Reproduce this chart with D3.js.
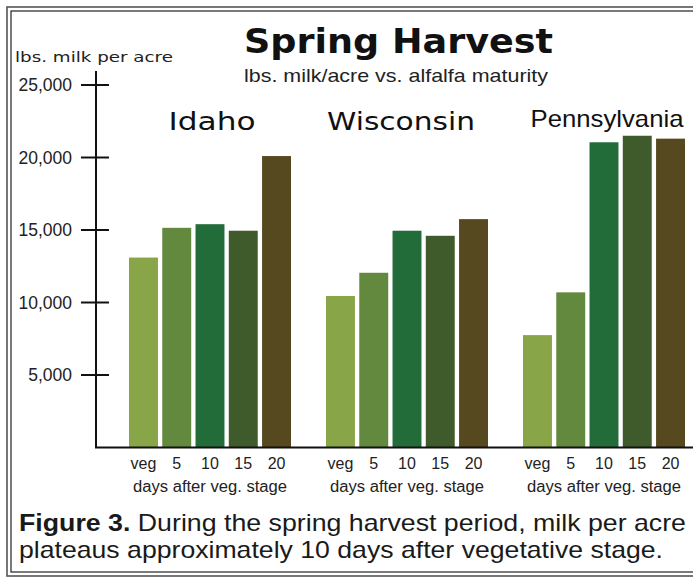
<!DOCTYPE html>
<html>
<head>
<meta charset="utf-8">
<script src="https://cdn.jsdelivr.net/npm/d3@7"></script>
<style>
  body { margin: 0; background: #fff; }
</style>
</head>
<body>
<div id="chart"></div>
<script>
// data
const regions = ["Idaho", "Wisconsin", "Pennsylvania"]
const stages = ["veg", "5", "10", "15", "20"]
const idaho = [13100, 15150, 15400, 14950, 20100]
const wisconsin = [10450, 12050, 14950, 14600, 15750]
const pennsylvania = [7750, 10700, 21050, 21500, 21300]
const yTicks = [5000, 10000, 15000, 20000, 25000]
const stageColors = ["#88a548", "#62893d", "#216c39", "#3f5a2b", "#57491f"]

const values = { "Idaho": idaho, "Wisconsin": wisconsin, "Pennsylvania": pennsylvania }

const W = 693, H = 578

const svg = d3.select("#chart")
    .append("svg")
    .attr("width", W)
    .attr("height", H)
    .style("font-family", "'Liberation Sans', Arial, sans-serif")

// double frame round the figure
svg.append("rect").attr("x", 7).attr("y", 7).attr("width", 720).attr("height", 569)
    .attr("fill", "none").attr("stroke", "#555").attr("stroke-width", 1.6)
svg.append("rect").attr("x", 11).attr("y", 11).attr("width", 720).attr("height", 561)
    .attr("fill", "none").attr("stroke", "#222").attr("stroke-width", 1.2)

// scales
const y = d3.scaleLinear().domain([0, 25000]).range([447.5, 85])
const x0 = d3.scaleBand().domain(regions).range([129, 129 + 3 * 197])
const x1 = d3.scaleBand().domain(stages).range([0, 162]).paddingInner(0.13)

// titles
svg.append("text")
    .text("Spring Harvest")
    .attr("x", 244).attr("y", 53)
    .attr("textLength", 309).attr("lengthAdjust", "spacingAndGlyphs")
    .style("font-family", "'DejaVu Sans', Verdana, sans-serif")
    .style("font-weight", "bold")
    .style("font-size", "33px")
    .attr("fill", "#111")

svg.append("text")
    .text("lbs. milk/acre vs. alfalfa maturity")
    .attr("x", 244).attr("y", 82)
    .attr("textLength", 304).attr("lengthAdjust", "spacingAndGlyphs")
    .style("font-size", "19px")
    .attr("fill", "#222")

svg.append("text")
    .text("lbs. milk per acre")
    .attr("x", 15).attr("y", 62)
    .attr("textLength", 158).attr("lengthAdjust", "spacingAndGlyphs")
    .style("font-family", "'DejaVu Sans', Verdana, sans-serif")
    .style("font-size", "14px")
    .attr("fill", "#222")

// y axis: a plain line with ticks that cross it
svg.append("line")
    .attr("x1", 96).attr("x2", 96)
    .attr("y1", 71).attr("y2", y(0))
    .attr("stroke", "#111").attr("stroke-width", 2)

const ticks = svg.selectAll(".ytick").data(yTicks).join("g")
    .attr("class", "ytick")
    .attr("transform", d => `translate(0, ${y(d)})`)
ticks.append("line")
    .attr("x1", 81).attr("x2", 109)
    .attr("stroke", "#111").attr("stroke-width", 2)
ticks.append("text")
    .text(d => d3.format(",")(d))
    .attr("x", 72).attr("y", 6)
    .attr("text-anchor", "end")
    .style("font-size", "17.5px")
    .attr("fill", "#222")

// bars, one group per state
const groups = svg.selectAll(".region").data(regions).join("g")
    .attr("class", "region")
    .attr("transform", d => `translate(${x0(d)}, 0)`)

groups.selectAll("rect")
    .data(r => values[r].map((v, i) => ({ stage: stages[i], value: v, i: i })))
    .join("rect")
    .attr("x", d => x1(d.stage))
    .attr("width", x1.bandwidth())
    .attr("y", d => y(d.value))
    .attr("height", d => y(0) - y(d.value))
    .attr("fill", d => stageColors[d.i])

// baseline drawn after the bars
svg.append("line")
    .attr("x1", 95).attr("x2", W)
    .attr("y1", y(0)).attr("y2", y(0))
    .attr("stroke", "#111").attr("stroke-width", 2)

// state names
const nameLen = { "Idaho": 87, "Wisconsin": 148, "Pennsylvania": 153 }
const nameShift = { "Idaho": 2, "Wisconsin": -6, "Pennsylvania": 3 }
groups.append("text")
    .text(d => d)
    .attr("x", d => 81 + nameShift[d])
    .attr("y", d => d === "Pennsylvania" ? 127 : 130)
    .attr("text-anchor", "middle")
    .attr("textLength", d => nameLen[d]).attr("lengthAdjust", "spacingAndGlyphs")
    .style("font-family", d => d === "Pennsylvania" ? "'Liberation Sans', Arial, sans-serif" : "'DejaVu Sans', Verdana, sans-serif")
    .style("font-size", d => d === "Pennsylvania" ? "24px" : "25px")
    .attr("fill", "#111")

// stage labels below the bars
groups.selectAll(".stage")
    .data(stages)
    .join("text")
    .attr("class", "stage")
    .text(d => d)
    .attr("x", d => x1(d) + x1.bandwidth() / 2)
    .attr("y", 469)
    .attr("text-anchor", "middle")
    .style("font-size", "16px")
    .attr("fill", "#222")

groups.append("text")
    .text("days after veg. stage")
    .attr("x", 81)
    .attr("y", 492)
    .attr("text-anchor", "middle")
    .attr("textLength", 154).attr("lengthAdjust", "spacingAndGlyphs")
    .style("font-size", "16px")
    .attr("fill", "#222")

// caption
const cap1 = svg.append("text")
    .attr("x", 19).attr("y", 531)
    .attr("textLength", 667).attr("lengthAdjust", "spacingAndGlyphs")
    .style("font-size", "24px")
    .attr("fill", "#1a1a1a")
cap1.append("tspan").text("Figure 3.").style("font-weight", "bold")
cap1.append("tspan").text(" During the spring harvest period, milk per acre")

svg.append("text")
    .text("plateaus approximately 10 days after vegetative stage.")
    .attr("x", 19).attr("y", 558)
    .attr("textLength", 644).attr("lengthAdjust", "spacingAndGlyphs")
    .style("font-size", "24px")
    .attr("fill", "#1a1a1a")
</script>
</body>
</html>
